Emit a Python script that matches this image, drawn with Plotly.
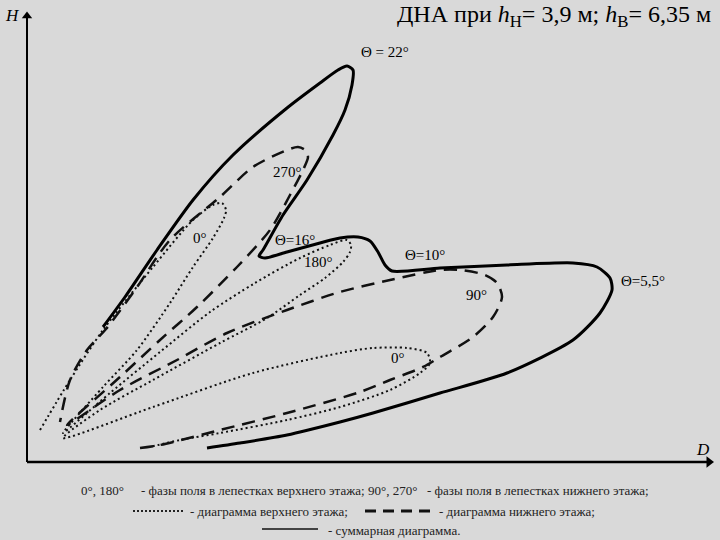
import plotly.graph_objects as go

# ---- data (D = horizontal distance, H = height; arbitrary drawing units) ----
sum_D = [76, 98, 130, 166, 206, 260, 293, 311, 320, 326, 325, 318, 306, 280, 256, 236, 232, 238, 260, 293,
         313, 331, 343, 351, 358, 365, 413, 480, 546, 570, 583, 585, 573, 546, 480, 413, 346, 313, 260, 213, 180]
sum_H = [135, 165, 212, 262, 307, 354, 379, 392, 396, 392, 377, 352, 327, 282, 247, 212, 206, 204, 210, 219,
         224, 225, 221, 210, 197, 191, 194, 197, 199, 195, 184, 172, 149, 122, 89, 69, 49, 40, 27, 19, 14]

low_D = [113, 133, 193, 260, 333, 363, 396, 413, 446, 466, 475, 470, 458, 433, 413, 363, 313, 260, 200, 150, 93, 40,
         93, 133, 170, 210, 243, 263, 276, 281, 278, 271, 260, 226, 193, 143, 108, 79, 60, 43, 33]
low_H = [14, 17, 32, 49, 70, 82, 95, 105, 125, 145, 165, 179, 187, 192, 192, 182, 170, 152, 129, 102, 72, 37,
         85, 122, 155, 195, 232, 267, 292, 305, 312, 315, 312, 295, 265, 222, 172, 133, 112, 82, 40]

up_D = [13, 43, 76, 126, 166, 186, 195, 199, 197, 186, 166, 143, 110, 76, 36,
        83, 133, 183, 228, 273, 303, 320, 324, 323, 316, 298, 273, 240, 193, 126, 73, 36,
        126, 226, 313, 346, 380, 400, 403, 393, 363, 313, 260, 193, 153, 123]
up_H = [32, 82, 132, 195, 242, 257, 259, 252, 244, 224, 195, 159, 112, 75, 29,
        69, 110, 150, 179, 204, 217, 222, 217, 210, 200, 184, 167, 144, 119, 82, 52, 24,
        55, 89, 109, 114, 114, 109, 99, 89, 72, 55, 42, 29, 22, 15]

lobe_labels = ["Θ = 22°", "270°", "0°", "Θ=16°", "180°", "Θ=10°", "Θ=5,5°", "90°", "0°"]
lobe_label_D = [358, 260, 173, 268, 291, 398, 616, 449, 371]
lobe_label_H = [410, 290, 224, 222, 200, 207, 181, 167, 104]

title_text = "ДНА при <i>h</i><sub>Н</sub>= 3,9 м; <i>h</i><sub>В</sub>= 6,35 м"

SERIF = "Liberation Serif, Times New Roman, serif"

fig = go.Figure()
fig.add_trace(go.Scatter(x=up_D, y=up_H, mode="lines",
                         line=dict(color="#111", width=2, dash="2px,3px", shape="spline", smoothing=0.8),
                         hoverinfo="skip"))
fig.add_trace(go.Scatter(x=low_D, y=low_H, mode="lines",
                         line=dict(color="#111", width=2.5, dash="13px,8px", shape="spline", smoothing=0.8),
                         hoverinfo="skip"))
fig.add_trace(go.Scatter(x=sum_D, y=sum_H, mode="lines",
                         line=dict(color="#000", width=3, shape="spline", smoothing=0.7),
                         hoverinfo="skip"))

for t, xx, yy in zip(lobe_labels, lobe_label_D, lobe_label_H):
    fig.add_annotation(x=xx, y=yy, text=t, showarrow=False,
                       font=dict(family=SERIF, size=15, color="#000"))

# axes with arrows
fig.add_shape(type="line", x0=0, x1=0, y0=0, y1=444, line=dict(color="#000", width=2))
fig.add_shape(type="line", x0=0, x1=680, y0=0, y1=0, line=dict(color="#000", width=2.5))
fig.add_trace(go.Scatter(x=[0], y=[446], mode="markers", hoverinfo="skip",
                         marker=dict(symbol="triangle-up", size=9, color="#000")))
fig.add_trace(go.Scatter(x=[682], y=[0], mode="markers", hoverinfo="skip",
                         marker=dict(symbol="triangle-right", size=10, color="#000")))
fig.add_annotation(x=-15, y=447, text="<i>H</i>", showarrow=False,
                   font=dict(family=SERIF, size=17, color="#000"))
fig.add_annotation(x=676, y=13, text="<i>D</i>", showarrow=False,
                   font=dict(family=SERIF, size=17, color="#000"))

# title
fig.add_annotation(x=686, y=446, text=title_text, showarrow=False, xanchor="right",
                   font=dict(family=SERIF, size=24, color="#000"))

# legend block (below the D axis)
LG = dict(family=SERIF, size=13, color="#222")
leg_items = [
    ("0°, 180°", 52, -28),
    ("- фазы поля в лепестках верхнего этажа;", 112, -28),
    ("90°, 270°", 339, -28),
    ("- фазы поля в лепестках нижнего этажа;", 398, -28),
    ("- диаграмма верхнего этажа;", 161, -49),
    ("- диаграмма нижнего этажа;", 410, -49),
    ("- суммарная диаграмма.", 299, -68),
]
for t, xx, yy in leg_items:
    fig.add_annotation(x=xx, y=yy, text=t, showarrow=False, xanchor="left", font=LG)

fig.add_shape(type="line", x0=106, x1=158, y0=-49, y1=-49, line=dict(color="#222", width=2, dash="2px,2px"))
fig.add_shape(type="line", x0=338, x1=405, y0=-49, y1=-49, line=dict(color="#111", width=3, dash="11px,7px"))
fig.add_shape(type="line", x0=235, x1=291, y0=-67, y1=-67, line=dict(color="#111", width=1.5))

fig.update_layout(
    width=720, height=540,
    margin=dict(l=0, r=0, t=0, b=0),
    paper_bgcolor="#d9d9d9", plot_bgcolor="#d9d9d9",
    showlegend=False,
    xaxis=dict(range=[-27, 693], visible=False, fixedrange=True),
    yaxis=dict(range=[-78, 462], visible=False, fixedrange=True),
)
fig.write_html("out.html",
               config={"displayModeBar": False},
               post_script="document.body.style.margin='0';document.body.style.background='#d9d9d9';"
                           "document.body.style.overflow='hidden';")
